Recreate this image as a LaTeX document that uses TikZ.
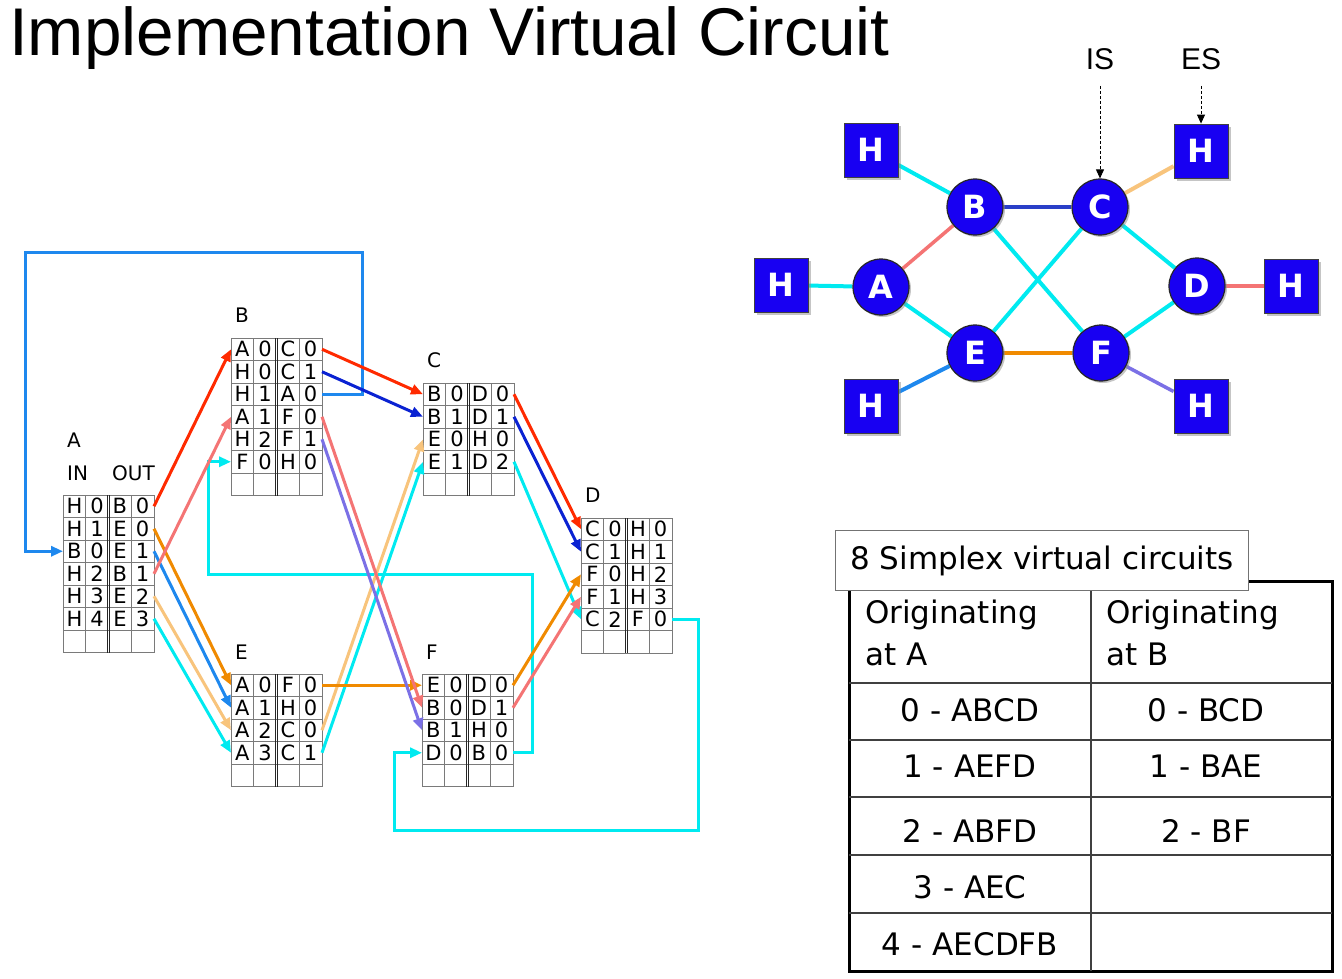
\documentclass[tikz,border=0pt]{standalone}
\usepackage{fontspec}
\setmainfont{DejaVu Sans}
\newfontfamily\titlefont{Liberation Sans}
\usetikzlibrary{arrows.meta,backgrounds,shadows}

\definecolor{cRed}{HTML}{FF2A00}
\definecolor{cDBlue}{HTML}{0A22D2}
\definecolor{cMBlue}{HTML}{1E88EE}
\definecolor{cOrange}{HTML}{F08A00}
\definecolor{cSalmon}{HTML}{F47474}
\definecolor{cTan}{HTML}{F8C47C}
\definecolor{cCyan}{HTML}{00EAF0}
\definecolor{cPurple}{HTML}{7B70E6}
\definecolor{gDBlue}{HTML}{2A3FC8}
\definecolor{nodeBlue}{HTML}{1800F2}
\definecolor{gridGray}{HTML}{7A7A7A}

\tikzset{
  cellt/.style={inner sep=0pt, font=\fontsize{21}{21}\selectfont},
  tablab/.style={inner sep=0pt, anchor=base west, font=\fontsize{20}{20}\selectfont},
  vc/.style={line width=3pt, -{Triangle[length=12pt,width=10pt]}},
  gridl/.style={draw=gridGray, line width=0.9pt},
  sepl/.style={draw=black!85, line width=1.3pt},
  router/.style={circle, draw=black!85, line width=1.2pt, fill=nodeBlue, minimum size=56pt, inner sep=0pt,
    text=white, font=\bfseries\fontsize{32}{32}\selectfont,
    drop shadow={shadow xshift=2pt, shadow yshift=-2pt, fill=black!45, opacity=0.5}},
  host/.style={rectangle, draw=black!75, line width=0.8pt, fill=nodeBlue, minimum size=54pt, inner sep=0pt,
    text=white, font=\bfseries\fontsize{32}{32}\selectfont,
    drop shadow={shadow xshift=3pt, shadow yshift=-3pt, fill=black!45, opacity=0.5}},
  link/.style={line width=4pt},
  pointer/.style={draw=black, line width=0.9pt, densely dashed, -{Triangle[length=9pt,width=8pt,fill=black]}},
  istxt/.style={inner sep=0pt, font=\titlefont\fontsize{30}{30}\selectfont},
  tabtxt/.style={inner sep=0pt, font=\fontsize{31}{42}\selectfont},
}

% routing table: #1 name, #2 x, #3 y (top), #4 total rows, #5 label offset, #6 entries
\newcommand{\rtab}[6]{%
  \node[tablab] (#1-lab) at ({#2+4},{#3-#5}) {#1};
  \foreach \a/\b/\c/\d [count=\i from 0] in {#6} {
    \pgfmathsetmacro{\yy}{#3+\i*22.5+11.25}
    \node[cellt] (#1-\i-1) at ({#2+11.4},\yy) {\a};
    \node[cellt] (#1-\i-2) at ({#2+34.1},\yy) {\b};
    \node[cellt] (#1-\i-3) at ({#2+56.9},\yy) {\c};
    \node[cellt] (#1-\i-4) at ({#2+79.6},\yy) {\d};
    \coordinate (#1-\i-in) at (#2,\yy);
    \coordinate (#1-\i-out) at ({#2+91},\yy);
  }
  \pgfmathtruncatemacro{\nm}{#4-1}
  \foreach \r in {1,...,\nm} {
    \draw[gridl] (#2,{#3+\r*22.5}) -- ({#2+91},{#3+\r*22.5});
  }
  \draw[gridl] ({#2+22.75},#3) -- ({#2+22.75},{#3+#4*22.5});
  \draw[gridl] ({#2+68.25},#3) -- ({#2+68.25},{#3+#4*22.5});
  \draw[gridl] (#2,#3) rectangle ({#2+91},{#3+#4*22.5});
  \draw[sepl] ({#2+44.2},#3) -- ({#2+44.2},{#3+#4*22.5});
  \draw[sepl] ({#2+46.8},#3) -- ({#2+46.8},{#3+#4*22.5});
}

\begin{document}
\begin{tikzpicture}[x=1pt,y=-1pt]
\useasboundingbox (0,0) rectangle (1342,979);
\begin{scope}[on background layer]
  \fill[white] (0,0) rectangle (1342,979);
\end{scope}

% ---------- title ----------
\node[anchor=base west, inner sep=0pt, font=\titlefont\fontsize{67.5}{67.5}\selectfont] (title) at (9,56) {Implementation Virtual Circuit};

% ---------- routing tables ----------
\rtab{A}{63}{495}{7}{48}{H/0/B/0, H/1/E/0, B/0/E/1, H/2/B/1, H/3/E/2, H/4/E/3}
\node[tablab] (A-in) at (67,480) {IN};
\node[tablab] (A-outl) at (112,480) {OUT};
\rtab{B}{231}{338}{7}{16}{A/0/C/0, H/0/C/1, H/1/A/0, A/1/F/0, H/2/F/1, F/0/H/0}
\rtab{C}{423}{383}{5}{16}{B/0/D/0, B/1/D/1, E/0/H/0, E/1/D/2}
\rtab{D}{581}{518}{6}{16}{C/0/H/0, C/1/H/1, F/0/H/2, F/1/H/3, C/2/F/0}
\rtab{E}{231}{674}{5}{15}{A/0/F/0, A/1/H/0, A/2/C/0, A/3/C/1}
\rtab{F}{422}{674}{5}{15}{E/0/D/0, B/0/D/1, B/1/H/0, D/0/B/0}

% loop corner coordinates
\coordinate (bl1) at (362,252);
\coordinate (bl2) at (25,252);
\coordinate (cl1) at (698,830);
\coordinate (cl2) at (394,830);
\coordinate (cl3) at (532,574);
\coordinate (cl4) at (208,574);

% ---------- virtual circuit connectors ----------
\draw[vc, cMBlue] (B-2-out) -| (bl1) -- (bl2) |- (A-2-in);
\draw[vc, cCyan] (D-4-out) -| (cl1) -- (cl2) |- (F-3-in);
\draw[vc, cCyan] (F-3-out) -| (cl3) -- (cl4) |- (B-5-in);

\draw[vc, cTan] (A-4-out) -- (E-2-in);
\draw[vc, cTan] (E-2-out) -- (C-2-in);
\draw[vc, cCyan] (A-5-out) -- (E-3-in);
\draw[vc, cCyan] (E-3-out) -- (C-3-in);
\draw[vc, cCyan] (C-3-out) -- (D-4-in);

\draw[vc, cRed] (A-0-out) -- (B-0-in);
\draw[vc, cRed] (B-0-out) -- (C-0-in);
\draw[vc, cRed] (C-0-out) -- (D-0-in);
\draw[vc, cDBlue] (B-1-out) -- (C-1-in);
\draw[vc, cDBlue] (C-1-out) -- (D-1-in);
\draw[vc, cMBlue] (A-2-out) -- (E-1-in);
\draw[vc, cOrange] (A-1-out) -- (E-0-in);
\draw[vc, cOrange] (E-0-out) -- (F-0-in);
\draw[vc, cOrange] (F-0-out) -- (D-2-in);
\draw[vc, cSalmon] (A-3-out) -- (B-3-in);
\draw[vc, cSalmon] (B-3-out) -- (F-1-in);
\draw[vc, cSalmon] (F-1-out) -- (D-3-in);
\draw[vc, cPurple] (B-4-out) -- (F-2-in);

% ---------- network graph ----------
\node[host] (H1) at (871,150) {H};
\node[host] (H2) at (781,285) {H};
\node[host] (H3) at (871,406) {H};
\node[host] (H4) at (1201,151) {H};
\node[host] (H5) at (1291,286) {H};
\node[host] (H6) at (1201,406) {H};
\node[router] (rA) at (881,287) {A};
\node[router] (rB) at (975,207) {B};
\node[router] (rC) at (1100,207) {C};
\node[router] (rD) at (1197,286) {D};
\node[router] (rE) at (975,353) {E};
\node[router] (rF) at (1101,353) {F};

\begin{scope}[on background layer]
  \draw[link, cCyan] (H1) -- (rB);
  \draw[link, cCyan] (H2) -- (rA);
  \draw[link, cSalmon, line width=3.5pt] (rA) -- (rB);
  \draw[link, cCyan] (rA) -- (rE);
  \draw[link, cMBlue] (H3) -- (rE);
  \draw[link, gDBlue, line width=3.5pt] (rB) -- (rC);
  \draw[link, cCyan] (rB) -- (rF);
  \draw[link, cCyan] (rE) -- (rC);
  \draw[link, cOrange] (rE) -- (rF);
  \draw[link, cTan] (rC) -- (H4);
  \draw[link, cCyan] (rC) -- (rD);
  \draw[link, cCyan] (rF) -- (rD);
  \draw[link, cSalmon] (rD) -- (H5);
  \draw[link, cPurple, line width=3.5pt] (rF) -- (H6);
\end{scope}

\node[istxt] (IS) at (1100,59) {IS};
\node[istxt] (ES) at (1201,59) {ES};
\draw[pointer, shorten <=16pt] (IS) -- (rC);
\draw[pointer, shorten <=16pt] (ES) -- (H4);

% ---------- summary table ----------
\draw[line width=3pt] (849,581) rectangle (1332,971);
\draw[line width=1.6pt, black!75] (1091,590) -- (1091,971);
\foreach \yy in {683,740,797,855,913} {
  \draw[line width=1.6pt, black!75] (849,\yy) -- (1332,\yy);
}
\node[draw=black!55, line width=1pt, fill=white, minimum width=413pt, minimum height=60pt,
      anchor=north west, inner sep=0pt, font=\fontsize{31}{31}\selectfont] (vctitle) at (835,530) {8 Simplex virtual circuits};

\node[tabtxt, anchor=north west, align=left] (hA) at (865,600) {Originating\\at A};
\node[tabtxt, anchor=north west, align=left] (hB) at (1106,600) {Originating\\at B};
\node[tabtxt] (a0) at (970,710) {0 - ABCD};
\node[tabtxt] (a1) at (970,766) {1 - AEFD};
\node[tabtxt] (a2) at (970,831) {2 - ABFD};
\node[tabtxt] (a3) at (970,887) {3 - AEC};
\node[tabtxt] (a4) at (970,944) {4 - AECDFB};
\node[tabtxt] (b0) at (1206,710) {0 - BCD};
\node[tabtxt] (b1) at (1206,766) {1 - BAE};
\node[tabtxt] (b2) at (1206,831) {2 - BF};
\end{tikzpicture}
\end{document}
